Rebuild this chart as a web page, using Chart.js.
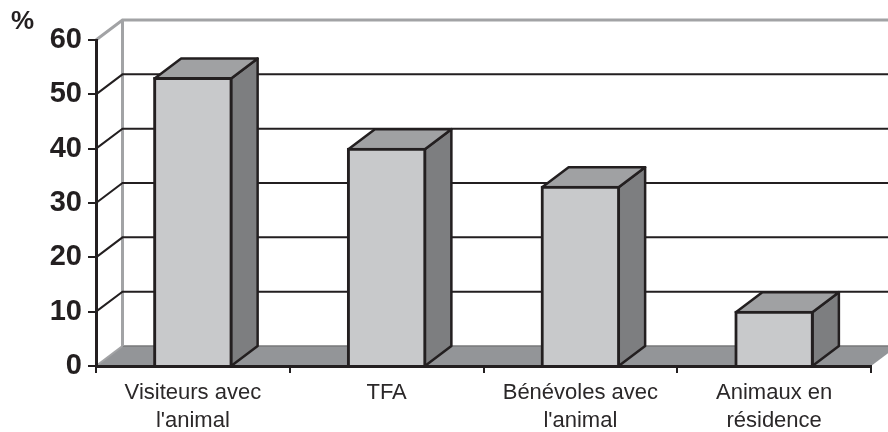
<!DOCTYPE html>
<html>
<head>
<meta charset="utf-8">
<style>html,body{margin:0;padding:0;background:#fff}#w{width:888px;height:432px}</style>
<script src="https://cdn.jsdelivr.net/npm/chart.js@4"></script>
</head>
<body>
<div id="w"><canvas id="c" width="888" height="432"></canvas></div>
<script>
const categories = [["Visiteurs avec","l'animal"],"TFA",["Bénévoles avec","l'animal"],["Animaux en","résidence"]];
const values = [53, 40, 33, 10];
const unitLabel = "%";

const INK = "#231f20", DX = 26.5, DY = 20;
const FRONT = "#c8c9cb", TOP = "#a0a1a3", SIDE = "#7d7e80", FLOOR = "#939598", WALL = "#a2a3a5";

function line(ctx, pts, color, width) {
  ctx.beginPath();
  pts.forEach((p, i) => i ? ctx.lineTo(p[0], p[1]) : ctx.moveTo(p[0], p[1]));
  ctx.strokeStyle = color; ctx.lineWidth = width; ctx.stroke();
}
function face(ctx, pts, color) {
  ctx.beginPath();
  pts.forEach((p, i) => i ? ctx.lineTo(p[0], p[1]) : ctx.moveTo(p[0], p[1]));
  ctx.closePath();
  ctx.fillStyle = color; ctx.fill();
  ctx.strokeStyle = INK; ctx.lineWidth = 2.5; ctx.lineJoin = "round"; ctx.stroke();
}
const box3d = {
  id: "box3d",
  beforeDraw(chart) {
    const ctx = chart.ctx, y = chart.scales.y, a = chart.chartArea, W = chart.width;
    const y0 = y.getPixelForValue(0), ymax = y.getPixelForValue(60);
    ctx.save();
    ctx.beginPath();
    ctx.moveTo(a.left, y0); ctx.lineTo(a.left + DX, y0 - DY);
    ctx.lineTo(a.right + DX, y0 - DY); ctx.lineTo(a.right, y0); ctx.closePath();
    ctx.fillStyle = FLOOR; ctx.fill();
    line(ctx, [[a.left + DX, y0 - DY], [W, y0 - DY]], "#77787a", 1.5);
    line(ctx, [[a.left, y0], [a.left + DX, y0 - DY]], WALL, 2);
    line(ctx, [[a.left + DX, y0 - DY], [a.left + DX, ymax - DY]], WALL, 3);
    line(ctx, [[a.left, ymax], [a.left + DX, ymax - DY], [W, ymax - DY]], WALL, 3);
    for (let v = 10; v < 60; v += 10) {
      const p = y.getPixelForValue(v);
      line(ctx, [[a.left, p], [a.left + DX, p - DY], [W, p - DY]], INK, 2);
    }
    ctx.restore();
  },
  beforeDatasetsDraw(chart) {
    const ctx = chart.ctx, y0 = chart.scales.y.getPixelForValue(0);
    ctx.save();
    chart.getDatasetMeta(0).data.forEach(b => {
      const L = b.x - b.width / 2 + 0.5, R = b.x + b.width / 2 - 0.5, T = b.y + 0.5;
      face(ctx, [[R, T], [R + DX, T - DY], [R + DX, y0 - DY], [R, y0]], SIDE);
      face(ctx, [[L, T], [L + DX, T - DY], [R + DX, T - DY], [R, T]], TOP);
    });
    ctx.restore();
  },
  afterDraw(chart) {
    const ctx = chart.ctx;
    ctx.save();
    ctx.fillStyle = INK;
    ctx.font = "bold 26px 'Liberation Sans', Arial, sans-serif";
    ctx.textAlign = "left"; ctx.textBaseline = "alphabetic";
    ctx.fillText(unitLabel, 11, 29);
    ctx.restore();
  }
};

new Chart(document.getElementById("c"), {
  type: "bar",
  data: {
    labels: categories,
    datasets: [{
      data: values, backgroundColor: FRONT, borderColor: INK, borderWidth: 3, inflateAmount: 1,
      borderSkipped: "bottom", barPercentage: 0.4, categoryPercentage: 1
    }]
  },
  plugins: [box3d],
  options: {
    responsive: false,
    animation: false,
    layout: { padding: { top: 40, right: 17, left: 0, bottom: 0 } },
    plugins: { legend: { display: false }, title: { display: false }, tooltip: { enabled: false } },
    scales: {
      x: {
        z: 1,
        afterFit(s) { s.height = 66; },
        grid: { drawOnChartArea: false, drawTicks: true, tickLength: 7, color: INK, lineWidth: 2, offset: true },
        border: { display: true, color: INK, width: 3 },
        ticks: { color: "#2b2829", maxRotation: 0, autoSkip: false, padding: 6,
                 font: { family: "'Liberation Sans', Arial, sans-serif", size: 22, lineHeight: 1.27 } }
      },
      y: {
        min: 0, max: 60,
        afterFit(s) { s.width = 96; },
        grid: { drawOnChartArea: false, drawTicks: true, tickLength: 8, color: INK, lineWidth: 2 },
        border: { display: true, color: INK, width: 3 },
        ticks: { stepSize: 10, color: INK, padding: 6,
                 font: { family: "'Liberation Sans', Arial, sans-serif", size: 29, weight: "bold" } }
      }
    }
  }
});
</script>
</body>
</html>
